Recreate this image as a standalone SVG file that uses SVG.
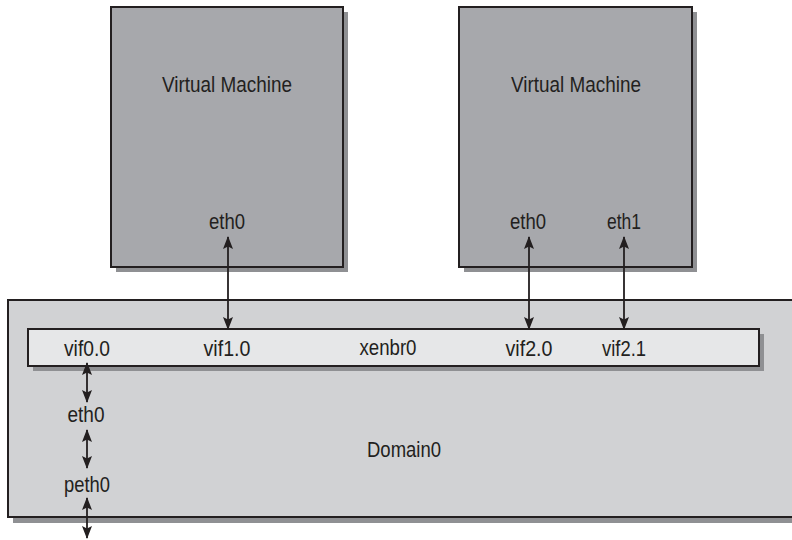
<svg xmlns="http://www.w3.org/2000/svg" width="792" height="540" viewBox="0 0 792 540">
<defs>
<style>
.vm{fill:#a7a8ac;stroke:#231f20;stroke-width:2}
.dom{fill:#d1d2d4;stroke:#231f20;stroke-width:2}
.bar{fill:#e6e7e8;stroke:#231f20;stroke-width:2}
.sh{fill:#8f9093}
text{font-family:"Liberation Sans Narrow","Liberation Sans",Arial,sans-serif;font-size:22px;fill:#231f20;text-anchor:middle}
.ln{stroke:#231f20;stroke-width:1.8;fill:none;marker-start:url(#ah);marker-end:url(#ah)}
</style>
<marker id="ah" viewBox="0 0 13 10" refX="12" refY="5" markerWidth="13" markerHeight="10" markerUnits="userSpaceOnUse" orient="auto-start-reverse">
<path d="M0,0 L13,5 L0,10 L2.5,5 Z" fill="#231f20"/>
</marker>
</defs>
<g id="vm1">
<rect class="sh" x="116" y="12" width="232" height="260"/>
<rect class="vm" x="111" y="7" width="232" height="260"/>
<text x="227" y="92" textLength="130" lengthAdjust="spacingAndGlyphs">Virtual Machine</text>
<text x="227" y="229" textLength="36" lengthAdjust="spacingAndGlyphs">eth0</text>
</g>
<g id="vm2">
<rect class="sh" x="464" y="12" width="233" height="260"/>
<rect class="vm" x="459" y="7" width="233" height="260"/>
<text x="576" y="92" textLength="130" lengthAdjust="spacingAndGlyphs">Virtual Machine</text>
<text x="528" y="229" textLength="36" lengthAdjust="spacingAndGlyphs">eth0</text>
<text x="624" y="229" textLength="34" lengthAdjust="spacingAndGlyphs">eth1</text>
</g>
<g id="domain0">
<rect class="sh" x="13" y="305" width="790" height="218"/>
<rect class="dom" x="8" y="300" width="790" height="217"/>
<text x="404" y="457" textLength="74" lengthAdjust="spacingAndGlyphs">Domain0</text>
<text x="86" y="422" textLength="37" lengthAdjust="spacingAndGlyphs">eth0</text>
<text x="87" y="492" textLength="46" lengthAdjust="spacingAndGlyphs">peth0</text>
</g>
<g id="xenbr0">
<rect class="sh" x="33" y="334" width="731" height="37"/>
<rect class="bar" x="28" y="329" width="731" height="37"/>
<text x="87" y="356" textLength="46" lengthAdjust="spacingAndGlyphs">vif0.0</text>
<text x="227" y="356" textLength="47" lengthAdjust="spacingAndGlyphs">vif1.0</text>
<text x="388" y="355" textLength="57" lengthAdjust="spacingAndGlyphs">xenbr0</text>
<text x="529" y="356" textLength="47" lengthAdjust="spacingAndGlyphs">vif2.0</text>
<text x="624" y="356" textLength="44" lengthAdjust="spacingAndGlyphs">vif2.1</text>
</g>
<g id="connectors">
<line class="ln" x1="228" y1="237" x2="228" y2="329"/>
<line class="ln" x1="529" y1="237" x2="529" y2="329"/>
<line class="ln" x1="624" y1="237" x2="624" y2="329"/>
<line class="ln" x1="87" y1="363" x2="87" y2="402"/>
<line class="ln" x1="87" y1="430" x2="87" y2="468"/>
<line class="ln" x1="87" y1="498" x2="87" y2="538"/>
</g>
</svg>
